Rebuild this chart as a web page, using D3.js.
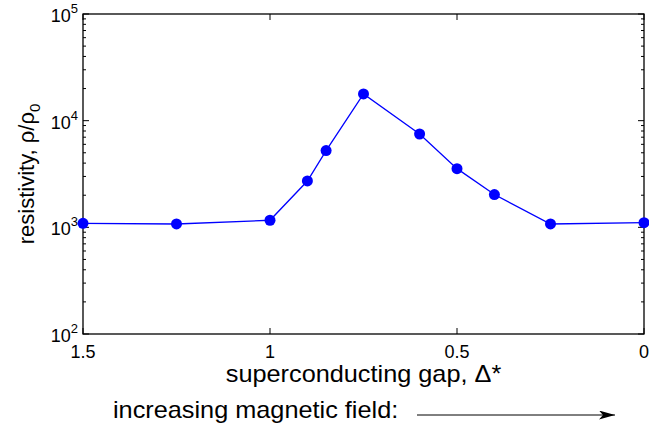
<!DOCTYPE html>
<html>
<head>
<meta charset="utf-8">
<script src="https://cdn.jsdelivr.net/npm/d3@7"></script>
<style>
  body { margin: 0; background: #fff; }
  text { font-family: "Liberation Sans", Arial, sans-serif; fill: #000; }
</style>
</head>
<body>
<svg id="chart" width="649" height="431"></svg>
<script>
// gap values (x axis runs backwards, 1.5 -> 0)
const gap = [1.5, 1.25, 1.0, 0.9, 0.85, 0.75, 0.6, 0.5, 0.4, 0.25, 0.0];
// resistivity rho/rho0
const rho = [1090, 1075, 1165, 2720, 5240, 17800, 7500, 3550, 2030, 1075, 1105];
const xTicks = [1.5, 1, 0.5, 0];
const xTickLabels = ['1.5', '1', '0.5', '0'];
const yDecades = [2, 3, 4, 5];

const svg = d3.select('#chart');
const pL = 83, pR = 644, pT = 14, pB = 334;

const x = d3.scaleLinear().domain([1.5, 0]).range([pL, pR]);
const y = d3.scaleLog().domain([100, 100000]).range([pB, pT]);

// box
svg.append('rect')
    .attr('x', pL).attr('y', pT)
    .attr('width', pR - pL).attr('height', pB - pT)
    .attr('fill', 'none').attr('stroke', '#000').attr('stroke-width', 1.3);

// x ticks (inward, bottom and top)
const xt = svg.append('g');
xTicks.forEach((t, i) => {
    xt.append('line').attr('x1', x(t)).attr('x2', x(t))
        .attr('y1', pB).attr('y2', pB - 6).attr('stroke', '#000');
    xt.append('line').attr('x1', x(t)).attr('x2', x(t))
        .attr('y1', pT).attr('y2', pT + 6).attr('stroke', '#000');
    xt.append('text').attr('x', x(t)).attr('y', 358)
        .attr('text-anchor', 'middle').attr('font-size', 18)
        .text(xTickLabels[i]);
});

// y ticks, major + minor, both sides
const yt = svg.append('g');
yDecades.forEach(d => {
    const base = Math.pow(10, d);
    yt.append('line').attr('x1', pL).attr('x2', pL + 6)
        .attr('y1', y(base)).attr('y2', y(base)).attr('stroke', '#000');
    yt.append('line').attr('x1', pR).attr('x2', pR - 6)
        .attr('y1', y(base)).attr('y2', y(base)).attr('stroke', '#000');
    const lab = yt.append('text').attr('x', 78).attr('y', y(base) + 8)
        .attr('text-anchor', 'end').attr('font-size', 18);
    lab.append('tspan').text('10');
    lab.append('tspan').attr('dy', -9).attr('font-size', 13).text(d);
    if (d < 5) {
        for (let m = 2; m < 10; m++) {
            const v = m * base;
            yt.append('line').attr('x1', pL).attr('x2', pL + 3)
                .attr('y1', y(v)).attr('y2', y(v)).attr('stroke', '#000');
            yt.append('line').attr('x1', pR).attr('x2', pR - 3)
                .attr('y1', y(v)).attr('y2', y(v)).attr('stroke', '#000');
        }
    }
});

// data line + markers
const pts = gap.map((g, i) => ({ g: g, r: rho[i] }));
const line = d3.line().x(d => x(d.g)).y(d => y(d.r));
svg.append('path').attr('d', line(pts))
    .attr('fill', 'none').attr('stroke', '#0000ff').attr('stroke-width', 1.3);
svg.append('g').selectAll('circle').data(pts).enter()
    .append('circle')
    .attr('cx', d => x(d.g)).attr('cy', d => y(d.r))
    .attr('r', 5.5).attr('fill', '#0000ff');

// axis labels (the original text is a bit wider than the font, hence the scale)
svg.append('text')
    .attr('transform', 'translate(' + ((pL + pR) / 2) + ',382) scale(1.1,1)')
    .attr('text-anchor', 'middle').attr('font-size', 23)
    .text('superconducting gap, \u0394*');

const yl = svg.append('text')
    .attr('transform', 'translate(34,174) rotate(-90)')
    .attr('text-anchor', 'middle').attr('font-size', 22);
yl.append('tspan').text('resistivity, \u03c1/\u03c1');
yl.append('tspan').attr('dy', 6).attr('font-size', 15).text('0');

// field arrow note
svg.append('text')
    .attr('transform', 'translate(113,418) scale(1.1,1)')
    .attr('font-size', 23)
    .text('increasing magnetic field:');
svg.append('defs').append('marker').attr('id', 'arr')
    .attr('viewBox', '0 0 16 9').attr('refX', 16).attr('refY', 4.5)
    .attr('markerWidth', 16).attr('markerHeight', 9).attr('orient', 'auto')
    .attr('markerUnits', 'userSpaceOnUse')
    .append('path').attr('d', 'M0,0 L16,4.5 L0,9 L4,4.5 Z').attr('fill', '#000');
svg.append('line').attr('x1', 417).attr('x2', 615)
    .attr('y1', 415).attr('y2', 415)
    .attr('stroke', '#000').attr('stroke-width', 1)
    .attr('marker-end', 'url(#arr)');
</script>
</body>
</html>
